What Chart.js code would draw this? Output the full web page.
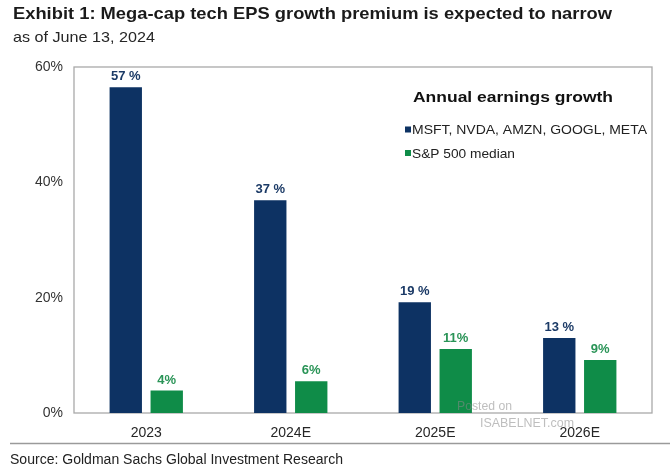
<!DOCTYPE html>
<html><head><meta charset="utf-8">
<script src="https://cdn.jsdelivr.net/npm/chart.js@4.4.1/dist/chart.umd.min.js"></script>
<style>html,body{margin:0;padding:0;background:#fff}#wrap{width:670px;height:467px;position:relative}</style>
</head><body><div id="wrap"><canvas id="c" width="670" height="467"></canvas></div>
<script>
const categories = ['2023', '2024E', '2025E', '2026E'];
const megaCap = [56.5, 36.9, 19.2, 13.0];
const spMedian = [3.9, 5.5, 11.1, 9.2];
const yTicks = [0, 20, 40, 60];
const seriesNames = ['MSFT, NVDA, AMZN, GOOGL, META', 'S&P 500 median'];
const titleText = 'Exhibit 1: Mega-cap tech EPS growth premium is expected to narrow';
const subtitleText = 'as of June 13, 2024';
const legendTitle = 'Annual earnings growth';
const sourceText = 'Source: Goldman Sachs Global Investment Research';

const NAVY = '#0d3263';
const GREEN = '#0f8c48';
const FONT = '"Liberation Sans", Arial, Helvetica, sans-serif';

function fitText(ctx, text, x, y, font, width, color) {
  ctx.save();
  ctx.font = font;
  ctx.fillStyle = color;
  ctx.textBaseline = 'alphabetic';
  ctx.textAlign = 'left';
  const w = ctx.measureText(text).width;
  const s = width ? width / w : 1;
  ctx.translate(x, y);
  ctx.scale(s, 1);
  ctx.fillText(text, 0, 0);
  ctx.restore();
}

const decor = {
  id: 'decor',
  beforeDatasetsDraw(chart) {
    const ctx = chart.ctx, a = chart.chartArea;
    ctx.save();
    ctx.strokeStyle = '#a9a9a9';
    ctx.lineWidth = 1.3;
    ctx.strokeRect(a.left, a.top, a.right - a.left, a.bottom - a.top);
    ctx.restore();
  },
  afterDraw(chart) {
    const ctx = chart.ctx;
    // title & subtitle
    fitText(ctx, titleText, 13, 19, 'bold 17px ' + FONT, 599, '#1a1a1a');
    fitText(ctx, subtitleText, 13, 42, '15px ' + FONT, 142, '#262626');
    // legend
    fitText(ctx, legendTitle, 413, 102, 'bold 15.5px ' + FONT, 200, '#111');
    const items = chart.data.datasets;
    const ys = [134, 157.5];
    const ws = [235, 103];
    items.forEach((ds, i) => {
      ctx.fillStyle = ds.backgroundColor;
      ctx.fillRect(405, ys[i] - 7.5, 6, 6);
      fitText(ctx, ds.label, 412, ys[i], '13px ' + FONT, ws[i], '#222');
    });
    // data labels
    chart.data.datasets.forEach((ds, di) => {
      const meta = chart.getDatasetMeta(di);
      meta.data.forEach((bar, i) => {
        const v = Math.round(ds.data[i]);
        const txt = di === 0 ? v + ' %' : v + '%';
        ctx.save();
        ctx.font = 'bold 13px ' + FONT;
        ctx.fillStyle = di === 0 ? '#1b3a66' : '#2a9457';
        ctx.textAlign = 'center';
        ctx.textBaseline = 'alphabetic';
        ctx.fillText(txt, bar.x, bar.y - 7);
        ctx.restore();
      });
    });
    // separator & source
    ctx.save();
    ctx.strokeStyle = '#9a9a9a';
    ctx.lineWidth = 1.5;
    ctx.beginPath();
    ctx.moveTo(10, 443.5);
    ctx.lineTo(670, 443.5);
    ctx.stroke();
    ctx.restore();
    fitText(ctx, sourceText, 10, 464, '14px ' + FONT, 333, '#222');
    // watermark
    ctx.save();
    ctx.globalAlpha = 0.55;
    fitText(ctx, 'Posted on', 457, 410, '12px ' + FONT, 55, '#888');
    fitText(ctx, 'ISABELNET.com', 480, 427, '12px ' + FONT, 94, '#888');
    ctx.restore();
  }
};

new Chart(document.getElementById('c'), {
  type: 'bar',
  data: {
    labels: categories,
    datasets: [
      { label: seriesNames[0], data: megaCap, backgroundColor: NAVY, categoryPercentage: 0.567, barPercentage: 0.79 },
      { label: seriesNames[1], data: spMedian, backgroundColor: GREEN, categoryPercentage: 0.567, barPercentage: 0.79 }
    ]
  },
  options: {
    responsive: false,
    animation: false,
    devicePixelRatio: 1,
    layout: { padding: { top: 67, left: 10, right: 18, bottom: 0 } },
    plugins: { legend: { display: false }, title: { display: false }, tooltip: { enabled: false } },
    scales: {
      x: {
        grid: { display: false, drawTicks: false },
        border: { display: false },
        ticks: { font: { family: FONT, size: 14 }, color: '#262626', padding: 12 },
        afterFit: s => { s.height = 54; }
      },
      y: {
        min: 0, max: 60,
        afterBuildTicks: s => { s.ticks = yTicks.map(v => ({ value: v })); },
        grid: { display: false, drawTicks: false },
        border: { display: false },
        ticks: { font: { family: FONT, size: 14 }, color: '#333', padding: 11, callback: v => v + '%' },
        afterFit: s => { s.width = 64; }
      }
    }
  },
  plugins: [decor]
});
</script>
</body></html>
